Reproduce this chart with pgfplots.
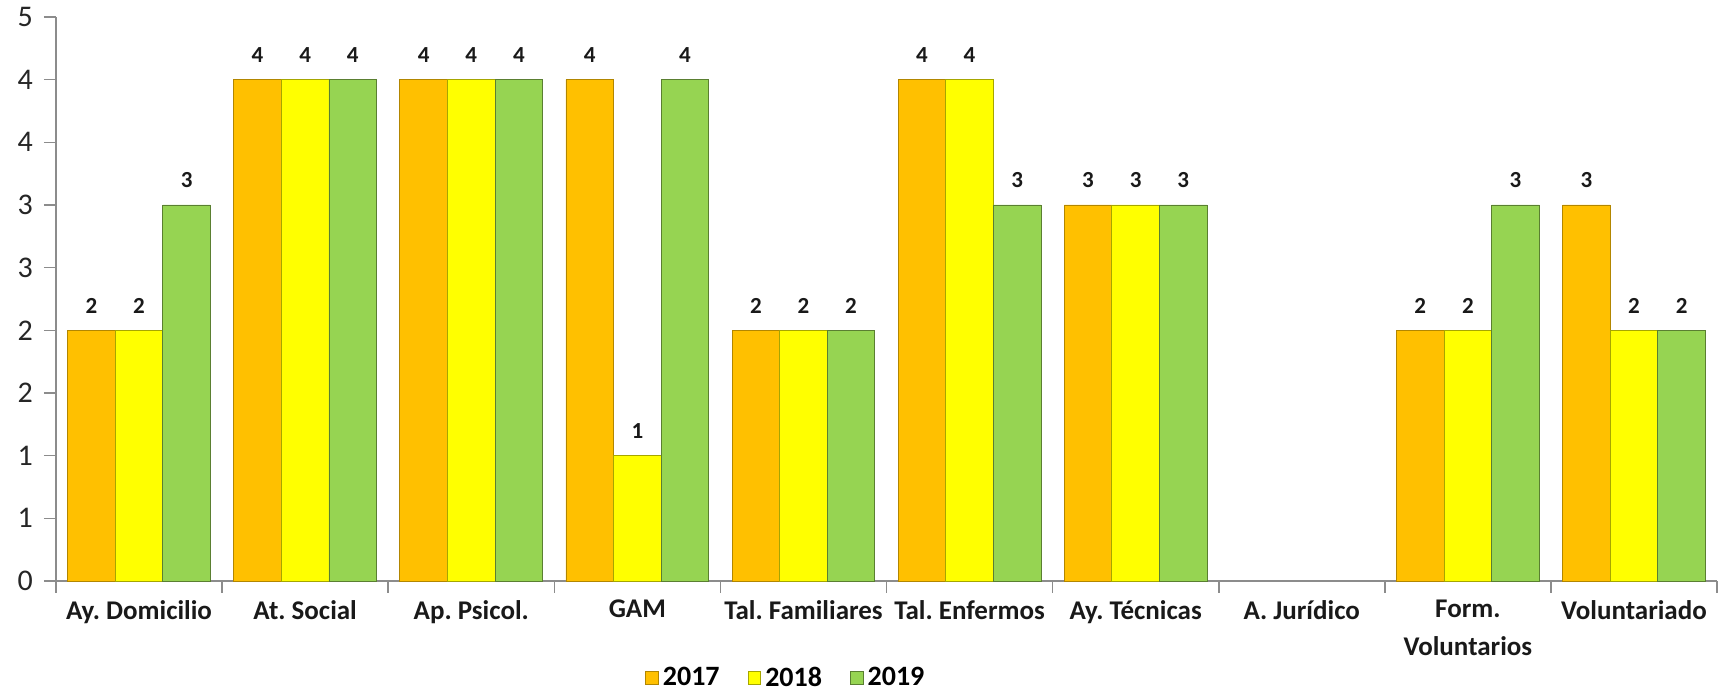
\documentclass[border=0pt]{standalone}
\usepackage{pgfplots}
\pgfplotsset{compat=1.18}
\usepackage{pgfplotstable}
\usepackage{fontspec}
\setmainfont{Carlito}
\frenchspacing
\definecolor{cA}{HTML}{FFC000}
\definecolor{cB}{HTML}{FFFF00}
\definecolor{cC}{HTML}{96D452}
\definecolor{axgray}{HTML}{8C8C8C}
\pgfplotstableread{
x y17 y18 y19
0 2 2 3
1 4 4 4
2 4 4 4
3 4 1 4
4 2 2 2
5 4 4 3
6 3 3 3
8 2 2 3
9 3 2 2
}\data
\begin{document}
\begin{tikzpicture}
\useasboundingbox (-28pt,-56.5pt) rectangle (836pt,290.5pt);
\begin{axis}[
  at={(0,0)}, anchor=south west,
  scale only axis, width=830.5pt, height=282pt,
  xmin=-0.5, xmax=9.5, ymin=0, ymax=4.5,
  axis x line=bottom, axis y line=left,
  axis line style={axgray, line width=0.8pt, -},
  ybar=0pt, bar width=23.8pt,
  ytick={0,0.5,...,4.5},
  yticklabels={0,1,1,2,2,3,3,4,4,5},
  tick style={axgray, line width=0.8pt},
  tick align=outside, major tick length=6pt,
  xtick={-0.5,0.5,...,9.5},
  xticklabels={},
  extra x ticks={0,...,9},
  extra x tick labels={Ay. Domicilio, At. Social, Ap. Psicol., GAM, Tal. Familiares, Tal. Enfermos, Ay. Técnicas, A. Jurídico, {Form.\\Voluntarios}, Voluntariado},
  extra x tick style={major tick length=0pt, tick style={draw=none}},
  xticklabel style={font=\fontsize{13.5}{19}\selectfont\bfseries, align=center, yshift=-6pt, text=black!90},
  yticklabel style={font=\fontsize{15}{17}\selectfont, text=black!85, xshift=-2pt},
  /pgf/number format/assume math mode=true,
  nodes near coords,
  nodes near coords style={font=\fontsize{11.5}{13}\selectfont\bfseries, yshift=5pt, text=black!90},
  legend style={at={(0.44,-0.172)}, anchor=center, draw=none, legend columns=3, inner sep=1pt,
    font=\fontsize{14}{16}\selectfont\bfseries, /tikz/every even column/.append style={column sep=12pt}},
  legend image code/.code={\draw[#1, line width=0.4pt] (0pt,-3.2pt) rectangle (6.4pt,3.2pt);},
  clip=false,
]
\addplot[draw=cA!70!black, fill=cA] table[x=x,y=y17]{\data};
\addplot[draw=cB!65!black, fill=cB] table[x=x,y=y18]{\data};
\addplot[draw=cC!60!black, fill=cC] table[x=x,y=y19]{\data};
\legend{2017,2018,2019}
\end{axis}
\end{tikzpicture}
\end{document}
